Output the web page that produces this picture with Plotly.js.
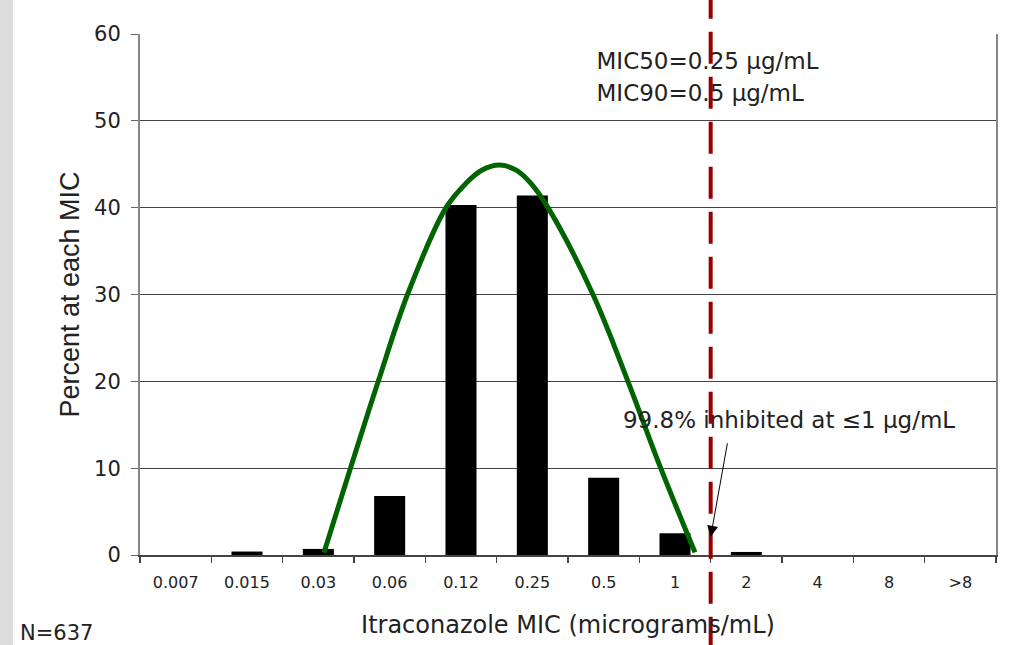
<!DOCTYPE html>
<html>
<head>
<meta charset="utf-8">
<script src="https://cdn.plot.ly/plotly-3.0.1.min.js"></script>
<style>html,body{margin:0;padding:0;background:#fff;}#chart{width:1014px;height:645px;}</style>
</head>
<body>
<div id="chart"></div>
<script>
const categories = ['0.007','0.015','0.03','0.06','0.12','0.25','0.5','1','2','4','8','>8'];
const percents = [0, 0.4, 0.7, 6.8, 40.3, 41.4, 8.9, 2.5, 0.35, 0, 0, 0];
const curveX = [2.08, 2.45, 2.84, 3.25, 3.79, 4.07, 4.29, 4.54, 4.78, 4.98, 5.22, 5.85, 6.34, 6.80, 7.28];
const curveY = [0.3, 10, 20, 30, 40, 42.8, 44.3, 44.9, 44.3, 42.8, 40, 30, 20, 10, 0.3];
const breakpointX = 7.5;
const arrowTipY = 2.1;
const micText = ['MIC50=0.25 μg/mL', 'MIC90=0.5 μg/mL'];
const inhibText = '99.8% inhibited at ≤1 μg/mL';
const nText = 'N=637';
const xTitle = 'Itraconazole MIC (micrograms/mL)';
const yTitle = 'Percent at each MIC';

const FONT = '"DejaVu Sans", "Liberation Sans", Arial, sans-serif';
const FONT_NARROW = '"Liberation Sans", Arial, sans-serif';

const traces = [
  {
    type: 'bar', x: categories, y: percents,
    marker: {color: '#000000', line: {width: 0}},
    xaxis: 'x', yaxis: 'y', hoverinfo: 'skip'
  },
  {
    type: 'scatter', mode: 'lines', x: curveX, y: curveY,
    line: {color: '#006400', width: 5, shape: 'spline', smoothing: 1},
    xaxis: 'x2', yaxis: 'y', hoverinfo: 'skip'
  },
  {
    type: 'scatter', mode: 'text',
    x: [5.90, 5.90, 6.27], y: [56.65, 52.95, 15.3],
    text: [micText[0], micText[1], inhibText],
    textposition: 'middle right', cliponaxis: false,
    textfont: {family: FONT, size: 23, color: '#222'},
    xaxis: 'x2', yaxis: 'y', hoverinfo: 'skip'
  }
];

const layout = {
  width: 1014, height: 645,
  margin: {l: 140, r: 18, t: 34, b: 90},
  paper_bgcolor: '#ffffff', plot_bgcolor: '#ffffff',
  showlegend: false,
  bargap: 0.565,
  font: {family: FONT, color: '#222'},
  xaxis: {
    type: 'category', range: [-0.5, 11.5],
    tickson: 'boundaries', ticks: 'outside', ticklen: 6, tickcolor: '#444', tickwidth: 1.5,
    ticklabelstandoff: 12,
    showline: true, linecolor: '#444', linewidth: 2,
    showgrid: false, zeroline: false,
    tickfont: {family: FONT, size: 16, color: '#222'},
    title: {text: xTitle, font: {family: FONT, size: 24, color: '#222'}, standoff: 25},
    automargin: false
  },
  xaxis2: {
    type: 'linear', range: [-0.5, 11.5], overlaying: 'x', visible: false
  },
  yaxis: {
    range: [0, 60], dtick: 10, tick0: 0,
    ticks: 'outside', ticklen: 7, tickcolor: '#666', ticklabelstandoff: 6,
    showline: true, linecolor: '#888', linewidth: 2, mirror: true,
    showgrid: true, gridcolor: '#444', gridwidth: 1, zeroline: false,
    tickfont: {family: FONT, size: 21, color: '#222'},
    title: {text: yTitle, font: {family: FONT_NARROW, size: 27, color: '#222'}, standoff: 7},
    automargin: false
  },
  shapes: [
    {type: 'rect', xref: 'paper', yref: 'paper', x0: -0.1636, x1: -0.1484, y0: -0.18, y1: 1.08,
     fillcolor: '#dcdcdc', line: {width: 0}, layer: 'below'},
    {type: 'line', xref: 'x', yref: 'paper', x0: breakpointX, x1: breakpointX, y0: -0.18, y1: 1.08,
     line: {color: '#960000', width: 4, dash: '32px,13px'}, layer: 'above'}
  ],
  annotations: [
    {xref: 'x', yref: 'y', x: breakpointX, y: arrowTipY, ax: 17, ay: -95, text: '',
     showarrow: true, arrowhead: 2, arrowsize: 2.2, arrowwidth: 1, arrowcolor: '#000'},
    {xref: 'paper', yref: 'paper', x: (18-140)/856, y: (555-633)/521, xanchor: 'left', yanchor: 'middle',
     text: nText, showarrow: false, font: {family: FONT, size: 21, color: '#222'}}
  ]
};

Plotly.newPlot('chart', traces, layout, {displayModeBar: false, staticPlot: true});
</script>
</body>
</html>
